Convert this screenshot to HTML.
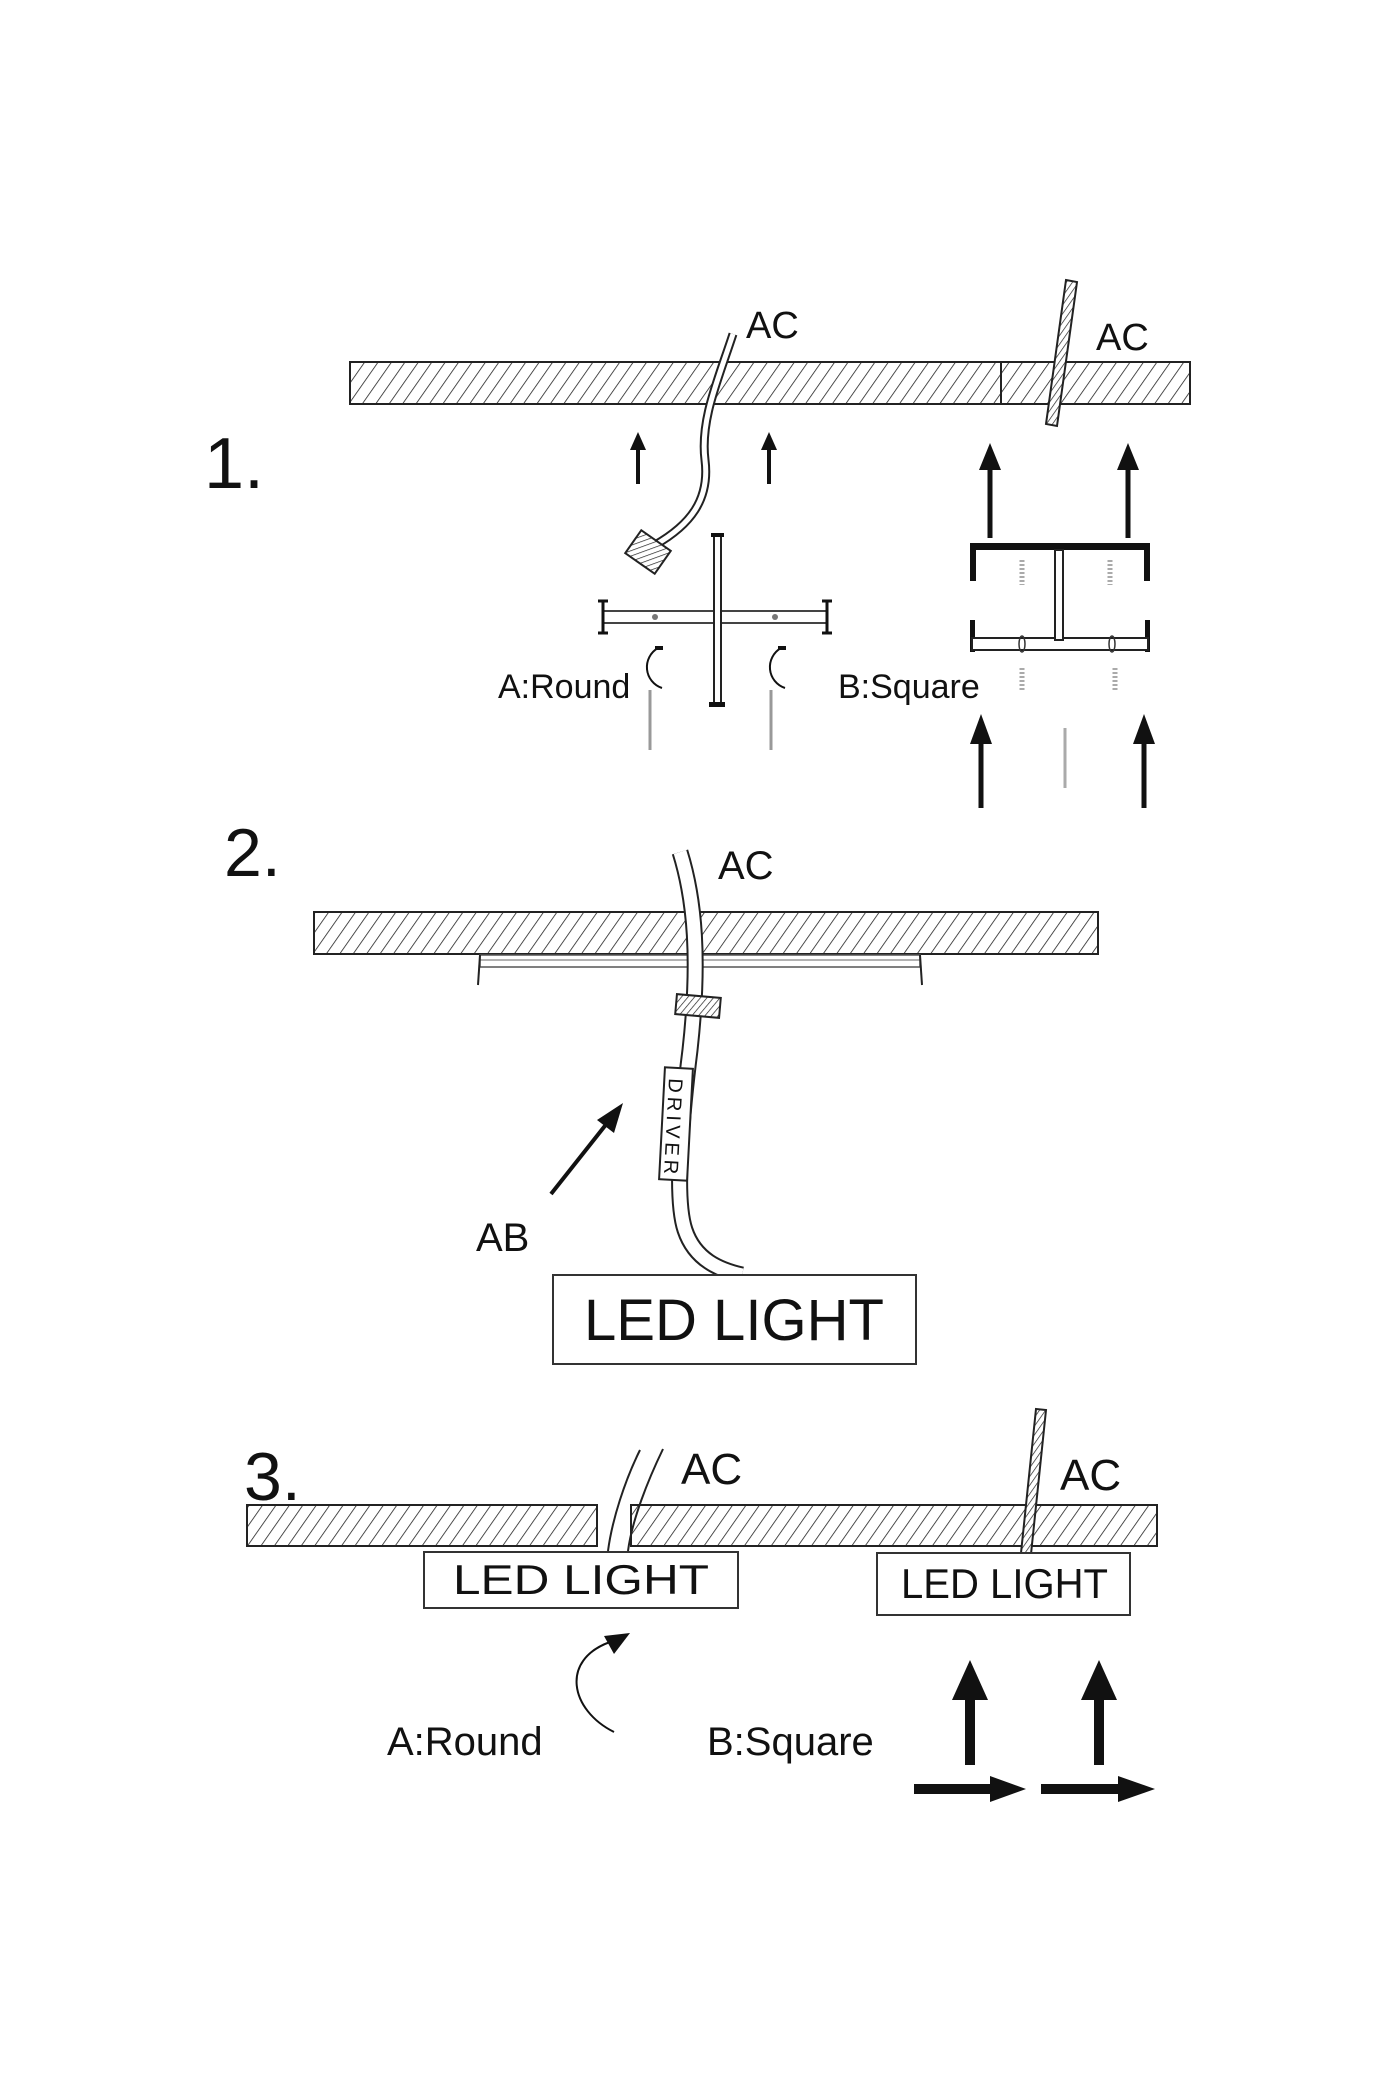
<!DOCTYPE html>
<html><head><meta charset="utf-8"><style>
html,body{margin:0;padding:0;background:#fff;}
svg{display:block;}
text{font-family:"Liberation Sans",sans-serif;fill:#111;}
</style></head><body>
<svg width="1400" height="2100" viewBox="0 0 1400 2100" xmlns="http://www.w3.org/2000/svg">
<defs>
<pattern id="h" patternUnits="userSpaceOnUse" width="11" height="11" patternTransform="rotate(35)">
<rect width="11" height="11" fill="#fff"/><line x1="0" y1="0" x2="0" y2="11" stroke="#222" stroke-width="1.6"/>
</pattern>
<pattern id="h2" patternUnits="userSpaceOnUse" width="5" height="5" patternTransform="rotate(35)">
<rect width="5" height="5" fill="#fff"/><line x1="0" y1="0" x2="0" y2="5" stroke="#222" stroke-width="1.4"/>
</pattern>
<marker id="ah" markerWidth="6" markerHeight="6" refX="3" refY="3" orient="auto" markerUnits="strokeWidth"><path d="M0,0 L6,3 L0,6 z" fill="#111"/></marker>
</defs>

<!-- ===== Section 1 ===== -->
<text x="204" y="488" font-size="72">1.</text>
<rect x="350" y="362" width="840" height="42" fill="url(#h)" stroke="#222" stroke-width="2"/>
<line x1="1001" y1="362" x2="1001" y2="404" stroke="#222" stroke-width="2"/>
<text x="746" y="338" font-size="38">AC</text>
<text x="1096" y="350" font-size="38">AC</text>
<!-- hatched cable -->
<polygon points="1066,280 1077,282 1057,426 1046,424" fill="url(#h2)" stroke="#222" stroke-width="2"/>
<!-- wire -->
<path d="M733,334 C718,380 700,420 705,460 C710,500 690,525 655,545" fill="none" stroke="#222" stroke-width="9"/>
<path d="M733,334 C718,380 700,420 705,460 C710,500 690,525 655,545" fill="none" stroke="#fff" stroke-width="5"/>
<rect x="630" y="538" width="36" height="28" fill="url(#h2)" stroke="#222" stroke-width="2" transform="rotate(35 648 552)"/>
<!-- small arrows -->
<line x1="638" y1="484" x2="638" y2="445" stroke="#111" stroke-width="4"/><polygon points="638,432 630,450 646,450" fill="#111"/>
<line x1="769" y1="484" x2="769" y2="445" stroke="#111" stroke-width="4"/><polygon points="769,432 761,450 777,450" fill="#111"/>
<!-- big arrows -->
<line x1="990" y1="538" x2="990" y2="465" stroke="#111" stroke-width="5"/><polygon points="990,443 979,470 1001,470" fill="#111"/>
<line x1="1128" y1="538" x2="1128" y2="465" stroke="#111" stroke-width="5"/><polygon points="1128,443 1117,470 1139,470" fill="#111"/>
<!-- round bracket -->
<rect x="603" y="611" width="224" height="12" fill="#fff" stroke="#444" stroke-width="2"/>
<line x1="603" y1="601" x2="603" y2="633" stroke="#111" stroke-width="3"/><line x1="598" y1="601" x2="608" y2="601" stroke="#111" stroke-width="3"/><line x1="598" y1="633" x2="608" y2="633" stroke="#111" stroke-width="3"/>
<line x1="827" y1="601" x2="827" y2="633" stroke="#111" stroke-width="3"/><line x1="822" y1="601" x2="832" y2="601" stroke="#111" stroke-width="3"/><line x1="822" y1="633" x2="832" y2="633" stroke="#111" stroke-width="3"/>
<rect x="714" y="536" width="7" height="170" fill="#fff" stroke="#222" stroke-width="2"/>
<rect x="711" y="533" width="13" height="4" fill="#111"/><rect x="709" y="702" width="16" height="5" fill="#111"/>
<circle cx="655" cy="617" r="3" fill="#777"/><circle cx="775" cy="617" r="3" fill="#777"/>
<path d="M658,648 A22,22 0 0 0 662,688" fill="none" stroke="#111" stroke-width="2"/><rect x="655" y="646" width="8" height="4" fill="#111"/>
<path d="M781,648 A22,22 0 0 0 785,688" fill="none" stroke="#111" stroke-width="2"/><rect x="778" y="646" width="8" height="4" fill="#111"/>
<line x1="650" y1="690" x2="650" y2="750" stroke="#999" stroke-width="3"/>
<line x1="771" y1="690" x2="771" y2="750" stroke="#999" stroke-width="3"/>
<text x="498" y="698" font-size="34">A:Round</text>
<!-- square bracket -->
<rect x="970" y="543" width="180" height="7" fill="#111"/>
<rect x="970" y="543" width="6" height="38" fill="#111"/><rect x="1144" y="543" width="6" height="38" fill="#111"/>
<rect x="970" y="620" width="5" height="32" fill="#111"/><rect x="1145" y="620" width="5" height="32" fill="#111"/>
<rect x="972" y="638" width="176" height="12" fill="#fff" stroke="#222" stroke-width="2"/>
<rect x="1055" y="550" width="8" height="90" fill="#fff" stroke="#222" stroke-width="2"/>
<ellipse cx="1022" cy="644" rx="3" ry="8" fill="none" stroke="#333" stroke-width="1.5"/>
<ellipse cx="1112" cy="644" rx="3" ry="8" fill="none" stroke="#333" stroke-width="1.5"/>
<line x1="1022" y1="560" x2="1022" y2="585" stroke="#aaa" stroke-width="5" stroke-dasharray="2,2"/>
<line x1="1110" y1="560" x2="1110" y2="585" stroke="#aaa" stroke-width="5" stroke-dasharray="2,2"/>
<line x1="1022" y1="668" x2="1022" y2="692" stroke="#aaa" stroke-width="5" stroke-dasharray="2,2"/>
<line x1="1115" y1="668" x2="1115" y2="692" stroke="#aaa" stroke-width="5" stroke-dasharray="2,2"/>
<line x1="1065" y1="728" x2="1065" y2="788" stroke="#aaa" stroke-width="3"/>
<text x="838" y="698" font-size="34">B:Square</text>
<line x1="981" y1="808" x2="981" y2="740" stroke="#111" stroke-width="5"/><polygon points="981,714 970,744 992,744" fill="#111"/>
<line x1="1144" y1="808" x2="1144" y2="740" stroke="#111" stroke-width="5"/><polygon points="1144,714 1133,744 1155,744" fill="#111"/>

<!-- ===== Section 2 ===== -->
<text x="224" y="876" font-size="68">2.</text>
<text x="718" y="879" font-size="40">AC</text>
<rect x="314" y="912" width="784" height="42" fill="url(#h)" stroke="#222" stroke-width="2"/>
<rect x="480" y="955" width="440" height="12" fill="#fff" stroke="#555" stroke-width="1.5"/>
<line x1="480" y1="960" x2="920" y2="960" stroke="#666" stroke-width="1"/>
<line x1="480" y1="955" x2="478" y2="985" stroke="#222" stroke-width="2"/><line x1="920" y1="955" x2="922" y2="985" stroke="#222" stroke-width="2"/>
<path d="M680,852 C695,900 700,960 690,1050 C680,1130 675,1200 685,1230 C695,1260 720,1270 742,1275" fill="none" stroke="#222" stroke-width="17"/>
<path d="M680,852 C695,900 700,960 690,1050 C680,1130 675,1200 685,1230 C695,1260 720,1270 742,1275" fill="none" stroke="#fff" stroke-width="13"/>
<rect x="676" y="996" width="44" height="20" fill="url(#h2)" stroke="#222" stroke-width="2" transform="rotate(5 698 1006)"/>
<rect x="662" y="1068" width="28" height="112" fill="#fff" stroke="#222" stroke-width="2" transform="rotate(3 676 1124)"/>
<text x="0" y="0" font-size="20" transform="translate(669,1078) rotate(93)" textLength="96">DRIVER</text>
<line x1="551" y1="1194" x2="608" y2="1122" stroke="#111" stroke-width="4"/><polygon points="623,1103 597,1120 614,1133" fill="#111"/>
<text x="476" y="1251" font-size="40">AB</text>
<rect x="553" y="1275" width="363" height="89" fill="#fff" stroke="#333" stroke-width="2"/>
<text x="584" y="1340" font-size="58" textLength="300" lengthAdjust="spacingAndGlyphs">LED LIGHT</text>

<!-- ===== Section 3 ===== -->
<text x="244" y="1500" font-size="68">3.</text>
<rect x="247" y="1505" width="350" height="41" fill="url(#h)" stroke="#222" stroke-width="2"/>
<rect x="631" y="1505" width="526" height="41" fill="url(#h)" stroke="#222" stroke-width="2"/>
<rect x="598" y="1500" width="32" height="50" fill="#fff"/>
<path d="M640,1450 C625,1480 612,1520 608,1551" fill="none" stroke="#222" stroke-width="2"/>
<path d="M663,1449 C648,1480 632,1520 628,1551" fill="none" stroke="#222" stroke-width="2"/>
<text x="681" y="1484" font-size="44">AC</text>
<text x="1060" y="1490" font-size="44">AC</text>
<polygon points="1036,1409 1046,1410 1031,1554 1021,1553" fill="url(#h2)" stroke="#222" stroke-width="2"/>
<rect x="424" y="1552" width="314" height="56" fill="#fff" stroke="#333" stroke-width="2"/>
<text x="453" y="1594" font-size="42" textLength="256" lengthAdjust="spacingAndGlyphs">LED LIGHT</text>
<rect x="877" y="1553" width="253" height="62" fill="#fff" stroke="#333" stroke-width="2"/>
<text x="901" y="1598" font-size="42" textLength="207" lengthAdjust="spacingAndGlyphs">LED LIGHT</text>
<path d="M614,1732 C570,1710 560,1660 610,1642" fill="none" stroke="#111" stroke-width="2"/>
<polygon points="630,1633 604,1636 614,1654" fill="#111"/>
<text x="387" y="1755" font-size="40">A:Round</text>
<text x="707" y="1755" font-size="40">B:Square</text>
<rect x="965" y="1695" width="10" height="70" fill="#111"/><polygon points="970,1660 952,1700 988,1700" fill="#111"/>
<rect x="1094" y="1695" width="10" height="70" fill="#111"/><polygon points="1099,1660 1081,1700 1117,1700" fill="#111"/>
<rect x="914" y="1784" width="80" height="10" fill="#111"/><polygon points="1026,1789 990,1776 990,1802" fill="#111"/>
<rect x="1041" y="1784" width="80" height="10" fill="#111"/><polygon points="1155,1789 1118,1776 1118,1802" fill="#111"/>
</svg>
</body></html>
